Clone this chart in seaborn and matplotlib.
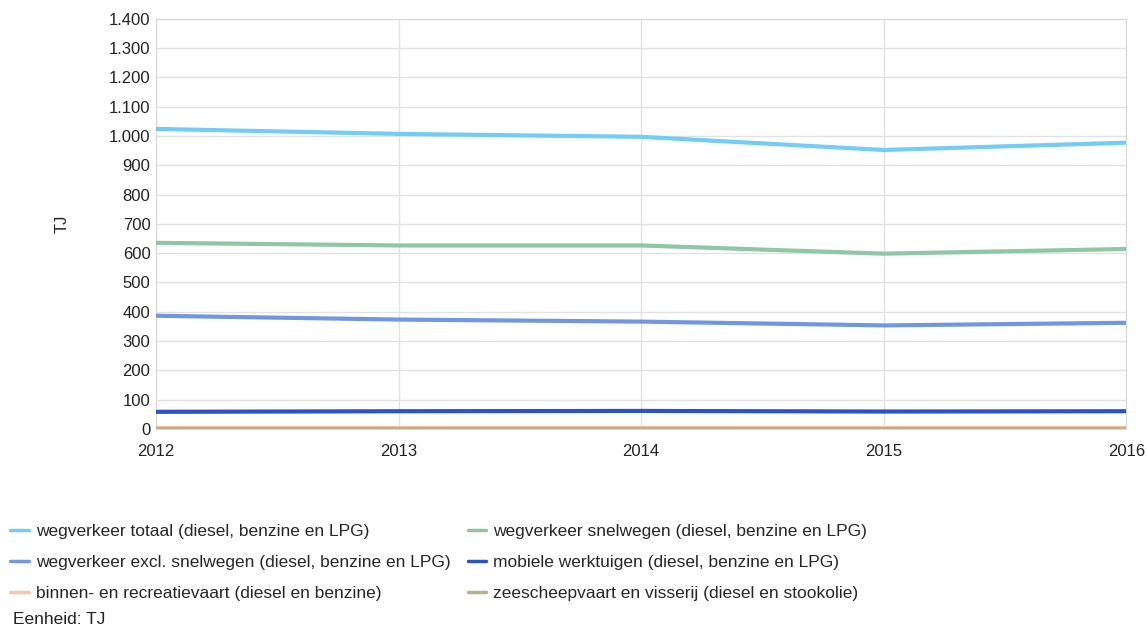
import matplotlib
matplotlib.use("Agg")
import matplotlib.pyplot as plt
import matplotlib.ticker as mticker
from matplotlib.lines import Line2D
import pandas as pd
import seaborn as sns

years = [2012, 2013, 2014, 2015, 2016]
series_names = [
    "wegverkeer totaal (diesel, benzine en LPG)",
    "wegverkeer snelwegen (diesel, benzine en LPG)",
    "wegverkeer excl. snelwegen (diesel, benzine en LPG)",
    "mobiele werktuigen (diesel, benzine en LPG)",
    "binnen- en recreatievaart (diesel en benzine)",
    "zeescheepvaart en visserij (diesel en stookolie)",
]
wegverkeer_totaal = [1024, 1007, 997, 952, 977]
wegverkeer_snelwegen = [635, 626, 626, 598, 614]
wegverkeer_excl = [386, 373, 366, 353, 362]
mobiele_werktuigen = [58, 60, 61, 59, 60]
binnenvaart = [2, 2, 2, 2, 2]
zeescheepvaart = [1, 1, 1, 1, 1]
colors = ["#72cdf5", "#8fc6a6", "#7097e0", "#2d52c6", "#f8c5a8", "#b9af8c"]

values = [wegverkeer_totaal, wegverkeer_snelwegen, wegverkeer_excl,
          mobiele_werktuigen, binnenvaart, zeescheepvaart]
rows = []
for name, vals in zip(series_names, values):
    for y, v in zip(years, vals):
        rows.append({"jaar": y, "serie": name, "TJ": v})
df = pd.DataFrame(rows)

sns.set_style("white")
plt.rcParams["font.family"] = ["Liberation Sans", "DejaVu Sans"]

fig = plt.figure(figsize=(11.47, 6.26), dpi=100)
ax = fig.add_axes([0.136, 0.315, 0.846, 0.655])

sns.lineplot(data=df, x="jaar", y="TJ", hue="serie", hue_order=series_names,
             palette=colors, linewidth=3, legend=False, ax=ax, zorder=3)

ax.set_xlim(2012, 2016)
ax.set_ylim(0, 1400)
ax.set_xticks(years)
ax.set_yticks(range(0, 1401, 100))
ax.yaxis.set_major_formatter(mticker.FuncFormatter(lambda v, p: f"{int(v):,}".replace(",", ".")))
ax.grid(True, color="#e2e2e2", linewidth=1)
for s in ax.spines.values():
    s.set_color("#d8d8d8")
ax.tick_params(length=0, labelsize=12, colors="#222222")
ax.tick_params(axis="x", pad=11)
ax.tick_params(axis="y", pad=4)
ax.set_xlabel("")
ax.set_ylabel("TJ", fontsize=12, color="#222222", labelpad=28)

# legend in two columns below the plot, filled row by row
handles = [Line2D([], [], color=c, linewidth=2.5) for c in colors]
order = [0, 2, 4, 1, 3, 5]
fig.legend([handles[i] for i in order], [series_names[i] for i in order],
           ncol=2, loc="upper left", bbox_to_anchor=(0.003, 0.174),
           frameon=False, fontsize=12.5, handlelength=1.05, handletextpad=0.4,
           columnspacing=1.0, labelspacing=0.9, borderaxespad=0)
fig.text(0.011, 0.003, "Eenheid: TJ", fontsize=12.5, color="#222222")

fig.savefig("out.png", dpi=100)
